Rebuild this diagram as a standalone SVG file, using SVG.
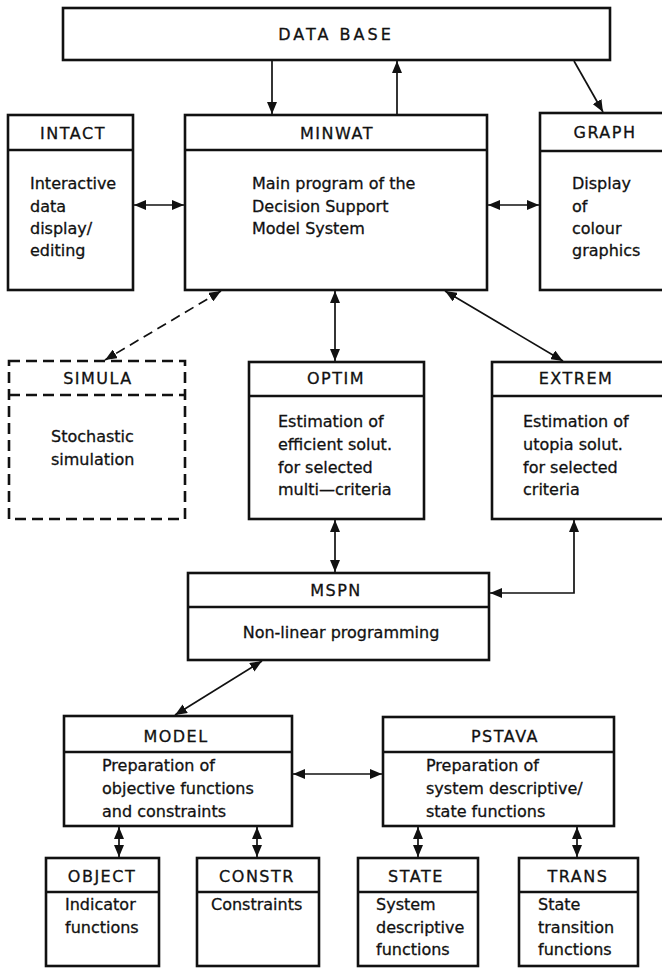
<svg xmlns="http://www.w3.org/2000/svg" width="662" height="969" viewBox="0 0 662 969">
<style>
.box{fill:none;stroke:#111;stroke-width:2.6}
.dash{fill:none;stroke:#111;stroke-width:2.6;stroke-dasharray:11 6}
.t{font-family:"DejaVu Sans","Liberation Sans",sans-serif;font-size:16px;fill:#111;stroke:#111;stroke-width:0.3;letter-spacing:1.5px;text-anchor:middle}
.b{font-family:"DejaVu Sans","Liberation Sans",sans-serif;font-size:16px;fill:#111;stroke:#111;stroke-width:0.3}
.c{fill:none;stroke:#111;stroke-width:1.7}
.cd{fill:none;stroke:#111;stroke-width:1.7;stroke-dasharray:10 6}
</style>
<defs>
<marker id="ah" viewBox="0 0 12 10" refX="12" refY="5" markerWidth="12" markerHeight="10" markerUnits="userSpaceOnUse" orient="auto-start-reverse">
<path d="M0,0 L12,5 L0,10 z" fill="#111"/>
</marker>
</defs>
<rect width="662" height="969" fill="#fff"/>

<g id="database">
<rect class="box" x="63" y="8" width="547" height="52"/>
<text class="t" x="336" y="40" style="letter-spacing:3px">DATA BASE</text>
</g>

<g id="intact">
<rect class="box" x="8" y="115" width="125" height="175"/>
<line class="box" x1="8" y1="150" x2="133" y2="150"/>
<text class="t" x="73" y="139">INTACT</text>
<text class="b" x="30" y="189">Interactive<tspan x="30" y="212">data</tspan><tspan x="30" y="234">display/</tspan><tspan x="30" y="256">editing</tspan></text>
</g>

<g id="minwat">
<rect class="box" x="185" y="115" width="302" height="175"/>
<line class="box" x1="185" y1="150" x2="487" y2="150"/>
<text class="t" x="337" y="139">MINWAT</text>
<text class="b" x="252" y="189">Main program of the<tspan x="252" y="212">Decision Support</tspan><tspan x="252" y="234">Model System</tspan></text>
</g>

<g id="graph">
<rect class="box" x="540" y="113" width="130" height="177"/>
<line class="box" x1="540" y1="151" x2="670" y2="151"/>
<text class="t" x="605" y="138">GRAPH</text>
<text class="b" x="572" y="189">Display<tspan x="572" y="212">of</tspan><tspan x="572" y="234">colour</tspan><tspan x="572" y="256">graphics</tspan></text>
</g>

<g id="simula">
<rect class="dash" x="9" y="361" width="176" height="158"/>
<line class="dash" x1="9" y1="395" x2="185" y2="395"/>
<text class="t" x="98" y="384">SIMULA</text>
<text class="b" x="51" y="442">Stochastic<tspan x="51" y="465">simulation</tspan></text>
</g>

<g id="optim">
<rect class="box" x="249" y="362" width="175" height="157"/>
<line class="box" x1="249" y1="396" x2="424" y2="396"/>
<text class="t" x="336" y="384">OPTIM</text>
<text class="b" x="278" y="427">Estimation of<tspan x="278" y="450">efficient solut.</tspan><tspan x="278" y="473">for selected</tspan><tspan x="278" y="495">multi—criteria</tspan></text>
</g>

<g id="extrem">
<rect class="box" x="492" y="362" width="178" height="157"/>
<line class="box" x1="492" y1="396" x2="670" y2="396"/>
<text class="t" x="576" y="384">EXTREM</text>
<text class="b" x="523" y="427">Estimation of<tspan x="523" y="450">utopia solut.</tspan><tspan x="523" y="473">for selected</tspan><tspan x="523" y="495">criteria</tspan></text>
</g>

<g id="mspn">
<rect class="box" x="188" y="573" width="301" height="87"/>
<line class="box" x1="188" y1="607" x2="489" y2="607"/>
<text class="t" x="336" y="596">MSPN</text>
<text class="b" x="341" y="638" text-anchor="middle">Non-linear programming</text>
</g>

<g id="model">
<rect class="box" x="64" y="716" width="228" height="110"/>
<line class="box" x1="64" y1="752" x2="292" y2="752"/>
<text class="t" x="176" y="742">MODEL</text>
<text class="b" x="102" y="771">Preparation of<tspan x="102" y="794">objective functions</tspan><tspan x="102" y="817">and constraints</tspan></text>
</g>

<g id="pstava">
<rect class="box" x="383" y="717" width="231" height="109"/>
<line class="box" x1="383" y1="752" x2="614" y2="752"/>
<text class="t" x="505" y="742">PSTAVA</text>
<text class="b" x="426" y="771">Preparation of<tspan x="426" y="794">system descriptive/</tspan><tspan x="426" y="817">state functions</tspan></text>
</g>

<g id="object">
<rect class="box" x="46" y="858" width="113" height="108"/>
<line class="box" x1="46" y1="892" x2="159" y2="892"/>
<text class="t" x="102" y="882">OBJECT</text>
<text class="b" x="65" y="910">Indicator<tspan x="65" y="933">functions</tspan></text>
</g>

<g id="constr">
<rect class="box" x="197" y="858" width="122" height="108"/>
<line class="box" x1="197" y1="892" x2="319" y2="892"/>
<text class="t" x="257" y="882">CONSTR</text>
<text class="b" x="211" y="910">Constraints</text>
</g>

<g id="state">
<rect class="box" x="358" y="858" width="120" height="108"/>
<line class="box" x1="358" y1="892" x2="478" y2="892"/>
<text class="t" x="416" y="882">STATE</text>
<text class="b" x="376" y="910">System<tspan x="376" y="933">descriptive</tspan><tspan x="376" y="955">functions</tspan></text>
</g>

<g id="trans">
<rect class="box" x="519" y="858" width="119" height="108"/>
<line class="box" x1="519" y1="892" x2="638" y2="892"/>
<text class="t" x="578" y="882">TRANS</text>
<text class="b" x="538" y="910">State<tspan x="538" y="933">transition</tspan><tspan x="538" y="955">functions</tspan></text>
</g>

<g id="connectors">
<line class="c" x1="272" y1="61" x2="272" y2="114" marker-end="url(#ah)"/>
<line class="c" x1="397" y1="114" x2="397" y2="61" marker-end="url(#ah)"/>
<line class="c" x1="574" y1="61" x2="603" y2="112" marker-end="url(#ah)"/>
<line class="c" x1="134" y1="205" x2="184" y2="205" marker-start="url(#ah)" marker-end="url(#ah)"/>
<line class="c" x1="488" y1="205" x2="539" y2="205" marker-start="url(#ah)" marker-end="url(#ah)"/>
<line class="cd" x1="221" y1="291" x2="105" y2="360" marker-start="url(#ah)" marker-end="url(#ah)"/>
<line class="c" x1="335" y1="291" x2="335" y2="361" marker-start="url(#ah)" marker-end="url(#ah)"/>
<line class="c" x1="445" y1="291" x2="563" y2="361" marker-start="url(#ah)" marker-end="url(#ah)"/>
<line class="c" x1="335" y1="520" x2="335" y2="572" marker-start="url(#ah)" marker-end="url(#ah)"/>
<polyline class="c" points="574,520 574,593 490,593" marker-start="url(#ah)" marker-end="url(#ah)"/>
<line class="c" x1="262" y1="661" x2="175" y2="715" marker-start="url(#ah)" marker-end="url(#ah)"/>
<line class="c" x1="293" y1="774" x2="382" y2="774" marker-start="url(#ah)" marker-end="url(#ah)"/>
<line class="c" x1="119" y1="827" x2="119" y2="857" marker-start="url(#ah)" marker-end="url(#ah)"/>
<line class="c" x1="257" y1="827" x2="257" y2="857" marker-start="url(#ah)" marker-end="url(#ah)"/>
<line class="c" x1="418" y1="827" x2="418" y2="857" marker-start="url(#ah)" marker-end="url(#ah)"/>
<line class="c" x1="577" y1="827" x2="577" y2="857" marker-start="url(#ah)" marker-end="url(#ah)"/>
</g>
</svg>
